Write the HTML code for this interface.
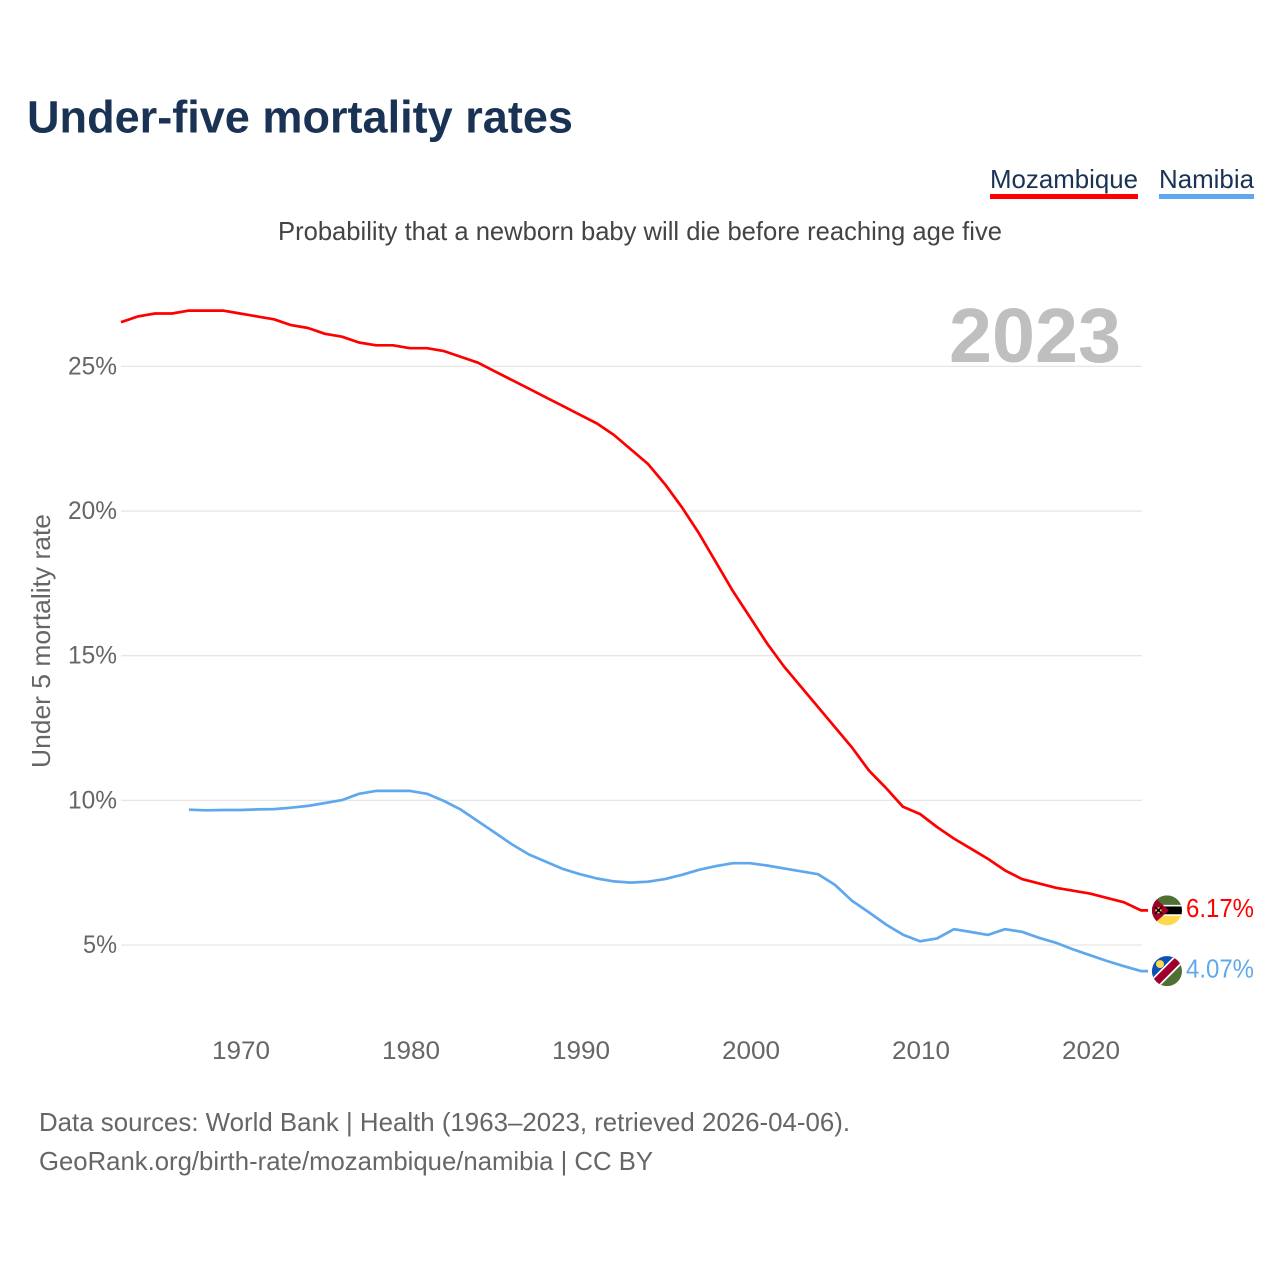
<!DOCTYPE html>
<html lang="en"><head><meta charset="utf-8"><title>Under-five mortality rates</title>
<style>
html,body{margin:0;padding:0;background:#fff}
svg{display:block;font-family:"Liberation Sans",sans-serif}
</style></head>
<body>
<svg id="chart" width="1280" height="1280" viewBox="0 0 1280 1280" xmlns="http://www.w3.org/2000/svg">
<defs><clipPath id="flag-clip"><circle cx="0" cy="0" r="15"/></clipPath></defs>
<text x="27" y="132.5" font-size="45" font-weight="700" fill="#1a3254" textLength="546" lengthAdjust="spacingAndGlyphs">Under-five mortality rates</text>
<g>
<text x="990" y="188" font-size="26" fill="#1a3254" textLength="148" lengthAdjust="spacingAndGlyphs">Mozambique</text>
<rect x="990" y="194" width="148" height="5" fill="#ff0000"/>
</g>
<g>
<text x="1159" y="188" font-size="26" fill="#1a3254" textLength="95" lengthAdjust="spacingAndGlyphs">Namibia</text>
<rect x="1159" y="194" width="95" height="5" fill="#5fa8ee"/>
</g>
<text x="278" y="240" font-size="26" fill="#444" textLength="724" lengthAdjust="spacingAndGlyphs">Probability that a newborn baby will die before reaching age five</text>
<text transform="translate(50,768) rotate(-90)" font-size="26" fill="#666" textLength="254" lengthAdjust="spacingAndGlyphs">Under 5 mortality rate</text>
<g id="grid"></g>
<text x="949" y="362" font-size="77" font-weight="700" fill="#bfbfbf" textLength="172" lengthAdjust="spacingAndGlyphs">2023</text>
<g id="yticks"></g>
<g id="xticks"></g>
<g id="series"></g>
<g id="flag-moz">
<g clip-path="url(#flag-clip)">
<rect x="-15" y="-15" width="30" height="10" fill="#4f7033"/>
<rect x="-15" y="-5" width="30" height="10" fill="#000"/>
<rect x="-15" y="5" width="30" height="10" fill="#ffd84d"/>
<rect x="-15" y="-5.5" width="30" height="1.6" fill="#fff"/>
<rect x="-15" y="3.9" width="30" height="1.6" fill="#fff"/>
<polygon points="-15,-15 2,0 -15,15" fill="#a2002c"/>
<circle cx="-8.5" cy="0" r="3" fill="#ffd84d"/>
<path d="M-12,-3.5 L-5,3.5 M-5,-3.5 L-12,3.5" stroke="#000" stroke-width="1.6"/>
</g></g>
<g id="flag-nam">
<g clip-path="url(#flag-clip)">
<rect x="-15" y="-15" width="30" height="30" fill="#4f7033"/>
<polygon points="-15,-15 15,-15 -15,15" fill="#0a52b5"/>
<line x1="-15" y1="15" x2="15" y2="-15" stroke="#fff" stroke-width="11"/>
<line x1="-15" y1="15" x2="15" y2="-15" stroke="#a2002c" stroke-width="7.5"/>
<circle cx="-7" cy="-7" r="4" fill="#ffd84d"/>
</g></g>
<g id="end-labels"></g>
<text x="39" y="1131" font-size="26" fill="#666" textLength="811" lengthAdjust="spacingAndGlyphs">Data sources: World Bank | Health (1963–2023, retrieved 2026-04-06).</text>
<text x="39" y="1170" font-size="26" fill="#666" textLength="614" lengthAdjust="spacingAndGlyphs">GeoRank.org/birth-rate/mozambique/namibia | CC BY</text>
</svg>
<script>
const mozambiqueStartYear = 1963;
const namibiaStartYear = 1967;
const mozambiqueValues = [26.5,26.7,26.8,26.8,26.9,26.9,26.9,26.8,26.7,26.6,26.4,26.3,26.1,26.0,25.8,25.7,25.7,25.6,25.6,25.5,25.3,25.1,24.8,24.5,24.2,23.9,23.6,23.3,23.0,22.6,22.1,21.6,20.9,20.1,19.2,18.2,17.2,16.3,15.4,14.6,13.9,13.2,12.5,11.8,11.0,10.4,9.75,9.5,9.05,8.65,8.3,7.95,7.55,7.25,7.1,6.95,6.85,6.75,6.6,6.45,6.17];
const namibiaValues = [9.65,9.63,9.64,9.64,9.66,9.67,9.72,9.78,9.88,9.98,10.2,10.3,10.3,10.3,10.2,9.95,9.65,9.25,8.85,8.45,8.1,7.85,7.6,7.42,7.27,7.17,7.13,7.16,7.25,7.4,7.57,7.7,7.8,7.8,7.72,7.62,7.52,7.42,7.05,6.5,6.1,5.68,5.33,5.1,5.2,5.52,5.42,5.32,5.52,5.43,5.22,5.05,4.82,4.62,4.42,4.24,4.07];
const yTickValues = [5,10,15,20,25];
const xTickYears = [1970,1980,1990,2000,2010,2020];

const NS = 'http://www.w3.org/2000/svg';
const xScale = year => 240 + (year - 1970) * 17;
const yScale = value => 945 - (value - 5) * 28.93;
const yLine = value => yScale(value) - 0.8;

function make(tag, attrs, parent, txt) {
  const el = document.createElementNS(NS, tag);
  for (const k in attrs) el.setAttribute(k, attrs[k]);
  if (txt !== undefined) el.textContent = txt;
  parent.appendChild(el);
  return el;
}

const grid = document.getElementById('grid');
const yticks = document.getElementById('yticks');
yTickValues.forEach(v => {
  const line = make('line', {x1:121, x2:1142, y1:yScale(v), y2:yScale(v), stroke:'#e6e6e6', 'stroke-width':1.3}, grid);
  
  
  const label = v + '%';
  const t = make('text', {x:117, y:yScale(v)+8, 'text-anchor':'end', 'font-size':25, fill:'#666', textLength: label.length === 2 ? 34 : 49, lengthAdjust:'spacingAndGlyphs'}, yticks, label);
  
  
});

const xticks = document.getElementById('xticks');
xTickYears.forEach(y => {
  const t = make('text', {x:xScale(y)-28, y:1059, 'font-size':25, fill:'#666', textLength:58, lengthAdjust:'spacingAndGlyphs'}, xticks, String(y));
  
  
});

const series = document.getElementById('series');
function linePath(values, start) {
  const last = values[values.length - 1];
  return values.map((v, i) => (i ? 'L' : 'M') + xScale(start + i).toFixed(1) + ' ' + yLine(v).toFixed(1)).join(' ') + ' L1148 ' + yLine(last).toFixed(1);
}
const mozLine = make('path', {d:linePath(mozambiqueValues, mozambiqueStartYear), fill:'none', stroke:'#ff0000', 'stroke-width':2.7, 'stroke-linejoin':'round'}, series);


const namLine = make('path', {d:linePath(namibiaValues, namibiaStartYear), fill:'none', stroke:'#5fa8ee', 'stroke-width':2.7, 'stroke-linejoin':'round'}, series);



const mozLast = mozambiqueValues[mozambiqueValues.length - 1];
const namLast = namibiaValues[namibiaValues.length - 1];
document.getElementById('flag-moz').setAttribute('transform', 'translate(1167,' + yLine(mozLast) + ')');
document.getElementById('flag-nam').setAttribute('transform', 'translate(1167,' + yLine(namLast) + ')');

const endLabels = document.getElementById('end-labels');
const mozText = make('text', {x:1186, y:yLine(mozLast)+6.5, 'font-size':26, fill:'#ff0000', textLength:68, lengthAdjust:'spacingAndGlyphs'}, endLabels, mozLast.toFixed(2) + '%');


const namText = make('text', {x:1186, y:yLine(namLast)+6.5, 'font-size':26, fill:'#5fa8ee', textLength:68, lengthAdjust:'spacingAndGlyphs'}, endLabels, namLast.toFixed(2) + '%');


</script>
</body></html>
